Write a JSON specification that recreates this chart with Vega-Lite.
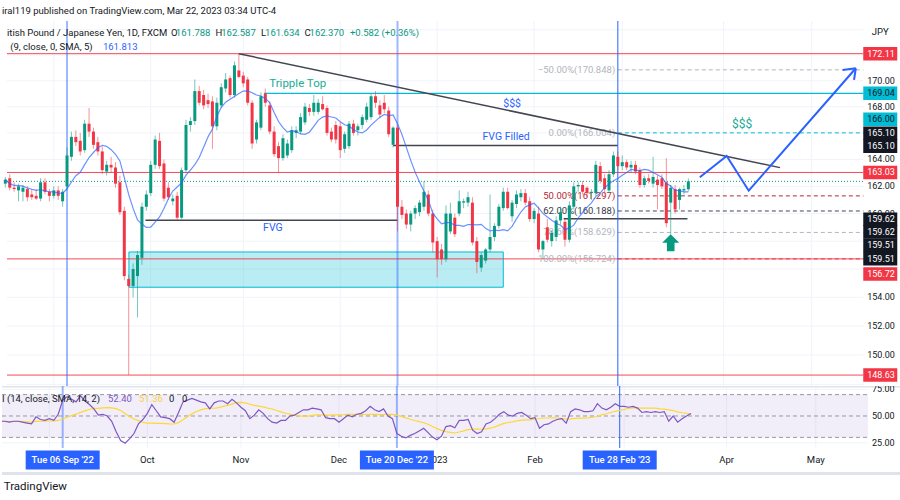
{
"$schema":"https://vega.github.io/schema/vega-lite/v6.json",
"padding":0,"background":"white","spacing":0,"bounds":"flush",
"config":{"view":{"stroke":null},"font":"Roboto"},
"resolve":{"scale":{"x":"independent","y":"independent"}},
"datasets":{
"candles":[
{"i":2,"o":162.2,"h":162.7,"l":161.9,"c":162.5,"r":45.1},
{"i":3,"o":162.6,"h":162.9,"l":161.7,"c":161.9,"r":45.1},
{"i":4,"o":161.9,"h":162.3,"l":161.6,"c":161.8,"r":44.2},
{"i":5,"o":161.7,"h":162.2,"l":160.9,"c":162.0,"r":45.1},
{"i":6,"o":161.6,"h":162.1,"l":160.9,"c":161.9,"r":45.1},
{"i":7,"o":161.8,"h":162.0,"l":160.9,"c":161.2,"r":44.2},
{"i":8,"o":161.4,"h":161.8,"l":161.0,"c":161.2,"r":43.4},
{"i":9,"o":161.3,"h":161.8,"l":161.0,"c":161.1,"r":42.6},
{"i":10,"o":161.1,"h":162.6,"l":160.9,"c":162.3,"r":49.2},
{"i":11,"o":162.3,"h":162.6,"l":161.4,"c":161.6,"r":46.7},
{"i":12,"o":161.6,"h":161.8,"l":160.9,"c":161.3,"r":45.9},
{"i":13,"o":161.3,"h":162.0,"l":161.1,"c":161.7,"r":47.5},
{"i":14,"o":161.7,"h":162.0,"l":161.0,"c":161.3,"r":45.9},
{"i":15,"o":160.9,"h":161.8,"l":160.5,"c":161.6,"r":51.6},
{"i":16,"o":162.0,"h":164.9,"l":161.7,"c":164.3,"r":64.8},
{"i":17,"o":164.2,"h":166.1,"l":163.9,"c":165.7,"r":68.1},
{"i":18,"o":165.7,"h":166.2,"l":165.0,"c":165.3,"r":65.6},
{"i":19,"o":165.4,"h":166.0,"l":164.3,"c":164.6,"r":63.2},
{"i":20,"o":164.7,"h":167.0,"l":164.5,"c":166.7,"r":68.9},
{"i":21,"o":166.7,"h":167.9,"l":165.7,"c":166.1,"r":64.0},
{"i":22,"o":166.1,"h":166.4,"l":164.8,"c":165.1,"r":60.7},
{"i":23,"o":165.3,"h":165.7,"l":164.3,"c":164.6,"r":56.6},
{"i":24,"o":164.6,"h":165.0,"l":162.9,"c":163.2,"r":50.8},
{"i":25,"o":163.1,"h":163.9,"l":162.8,"c":163.6,"r":51.6},
{"i":26,"o":163.6,"h":164.2,"l":163.0,"c":163.4,"r":50.0},
{"i":27,"o":163.4,"h":163.8,"l":161.9,"c":162.2,"r":45.1},
{"i":28,"o":162.3,"h":162.8,"l":159.9,"c":160.1,"r":35.2},
{"i":29,"o":160.2,"h":160.5,"l":155.2,"c":155.5,"r":27.0},
{"i":30,"o":155.3,"h":155.6,"l":148.63,"c":154.8,"r":24.5},
{"i":31,"o":154.8,"h":156.4,"l":154.0,"c":156.0,"r":28.6},
{"i":32,"o":155.5,"h":157.3,"l":152.6,"c":157.0,"r":33.6},
{"i":33,"o":156.8,"h":160.8,"l":156.3,"c":160.5,"r":42.6},
{"i":34,"o":160.5,"h":161.7,"l":160.2,"c":161.4,"r":46.7},
{"i":35,"o":161.5,"h":163.9,"l":161.3,"c":163.6,"r":52.5},
{"i":36,"o":163.6,"h":165.8,"l":163.3,"c":165.5,"r":60.7},
{"i":37,"o":165.4,"h":166.0,"l":163.3,"c":163.5,"r":54.9},
{"i":38,"o":163.7,"h":164.0,"l":160.9,"c":161.1,"r":49.2},
{"i":39,"o":161.9,"h":162.3,"l":161.0,"c":161.2,"r":48.4},
{"i":40,"o":160.9,"h":161.4,"l":160.6,"c":161.1,"r":47.5},
{"i":41,"o":161.3,"h":161.6,"l":159.5,"c":159.7,"r":44.2},
{"i":42,"o":159.7,"h":163.4,"l":159.6,"c":163.2,"r":53.3},
{"i":43,"o":163.2,"h":167.0,"l":163.0,"c":166.6,"r":63.2},
{"i":44,"o":166.6,"h":167.2,"l":166.1,"c":166.9,"r":64.8},
{"i":45,"o":166.9,"h":170.1,"l":166.6,"c":169.2,"r":66.4},
{"i":46,"o":169.2,"h":169.6,"l":168.1,"c":168.3,"r":64.8},
{"i":47,"o":168.9,"h":169.3,"l":167.8,"c":168.1,"r":63.2},
{"i":48,"o":168.5,"h":169.0,"l":167.9,"c":168.2,"r":62.3},
{"i":49,"o":168.4,"h":168.8,"l":164.8,"c":166.5,"r":56.6},
{"i":50,"o":166.5,"h":168.7,"l":166.2,"c":168.3,"r":62.3},
{"i":51,"o":168.1,"h":169.8,"l":167.9,"c":169.5,"r":64.0},
{"i":52,"o":169.4,"h":170.6,"l":169.1,"c":170.1,"r":64.0},
{"i":53,"o":170.2,"h":170.4,"l":168.7,"c":168.9,"r":61.5},
{"i":54,"o":168.9,"h":171.5,"l":168.7,"c":171.2,"r":65.6},
{"i":55,"o":170.8,"h":172.11,"l":170.2,"c":170.3,"r":62.3},
{"i":56,"o":170.4,"h":170.7,"l":169.5,"c":169.8,"r":58.2},
{"i":57,"o":170.1,"h":170.3,"l":168.1,"c":168.3,"r":54.9},
{"i":58,"o":168.3,"h":168.5,"l":164.8,"c":165.2,"r":47.5},
{"i":59,"o":165.5,"h":167.0,"l":165.2,"c":166.8,"r":50.8},
{"i":60,"o":166.4,"h":169.1,"l":166.2,"c":168.8,"r":55.8},
{"i":61,"o":169.0,"h":169.4,"l":168.0,"c":168.3,"r":52.5},
{"i":62,"o":168.1,"h":168.4,"l":165.9,"c":166.1,"r":47.5},
{"i":63,"o":166.1,"h":166.5,"l":164.2,"c":164.4,"r":44.2},
{"i":64,"o":165.0,"h":165.3,"l":163.0,"c":164.1,"r":43.4},
{"i":65,"o":164.1,"h":165.9,"l":163.9,"c":165.6,"r":45.9},
{"i":66,"o":164.3,"h":165.5,"l":164.1,"c":165.2,"r":45.9},
{"i":67,"o":164.7,"h":166.5,"l":164.5,"c":166.2,"r":50.0},
{"i":68,"o":166.0,"h":166.5,"l":165.6,"c":166.2,"r":50.8},
{"i":69,"o":166.1,"h":167.5,"l":165.9,"c":167.2,"r":53.3},
{"i":70,"o":166.8,"h":168.3,"l":166.6,"c":168.0,"r":55.8},
{"i":71,"o":167.9,"h":168.2,"l":167.3,"c":167.6,"r":55.8},
{"i":72,"o":167.6,"h":168.9,"l":167.3,"c":168.3,"r":57.4},
{"i":73,"o":167.6,"h":168.6,"l":167.4,"c":168.3,"r":56.6},
{"i":74,"o":168.2,"h":168.8,"l":167.7,"c":167.8,"r":55.8},
{"i":75,"o":167.9,"h":168.1,"l":165.8,"c":166.0,"r":48.4},
{"i":76,"o":166.1,"h":166.4,"l":165.3,"c":165.5,"r":47.5},
{"i":77,"o":166.6,"h":166.9,"l":165.2,"c":165.5,"r":47.5},
{"i":78,"o":166.5,"h":166.8,"l":164.1,"c":164.7,"r":44.2},
{"i":79,"o":164.8,"h":166.1,"l":164.5,"c":165.9,"r":47.5},
{"i":80,"o":165.0,"h":166.9,"l":164.8,"c":166.7,"r":50.8},
{"i":81,"o":166.7,"h":167.0,"l":165.8,"c":166.0,"r":49.2},
{"i":82,"o":166.2,"h":166.7,"l":165.8,"c":166.5,"r":51.6},
{"i":83,"o":166.6,"h":167.4,"l":166.3,"c":167.2,"r":52.5},
{"i":84,"o":167.0,"h":168.3,"l":166.8,"c":168.0,"r":54.9},
{"i":85,"o":167.2,"h":169.0,"l":167.0,"c":168.8,"r":59.0},
{"i":86,"o":168.8,"h":169.2,"l":167.9,"c":168.3,"r":55.8},
{"i":87,"o":168.1,"h":168.5,"l":167.1,"c":167.4,"r":54.1},
{"i":88,"o":168.3,"h":168.9,"l":167.5,"c":167.8,"r":56.6},
{"i":89,"o":167.7,"h":168.0,"l":165.7,"c":165.9,"r":50.0},
{"i":90,"o":165.1,"h":166.5,"l":164.9,"c":166.4,"r":47.5},
{"i":91,"o":166.4,"h":166.6,"l":158.7,"c":160.5,"r":33.6},
{"i":92,"o":160.5,"h":161.0,"l":159.6,"c":159.9,"r":31.1},
{"i":93,"o":160.0,"h":160.3,"l":158.9,"c":159.2,"r":29.5},
{"i":94,"o":159.2,"h":160.2,"l":158.7,"c":160.0,"r":31.9},
{"i":95,"o":160.0,"h":160.6,"l":159.6,"c":160.4,"r":33.6},
{"i":96,"o":160.1,"h":161.0,"l":159.8,"c":160.8,"r":36.0},
{"i":97,"o":160.5,"h":162.4,"l":160.2,"c":161.6,"r":38.5},
{"i":98,"o":161.4,"h":161.7,"l":159.8,"c":160.0,"r":34.4},
{"i":99,"o":160.0,"h":160.3,"l":157.2,"c":157.9,"r":30.3},
{"i":100,"o":158.0,"h":158.3,"l":155.4,"c":156.7,"r":27.8},
{"i":101,"o":157.4,"h":157.8,"l":156.3,"c":156.7,"r":31.1},
{"i":102,"o":156.7,"h":160.6,"l":156.5,"c":160.0,"r":40.1},
{"i":103,"o":158.7,"h":160.8,"l":158.5,"c":160.0,"r":41.0},
{"i":104,"o":159.7,"h":160.0,"l":158.3,"c":158.5,"r":39.0},
{"i":105,"o":160.0,"h":161.7,"l":159.8,"c":160.9,"r":45.9},
{"i":106,"o":160.8,"h":161.1,"l":160.4,"c":160.9,"r":45.9},
{"i":107,"o":160.8,"h":161.6,"l":160.5,"c":161.2,"r":46.7},
{"i":108,"o":160.8,"h":161.2,"l":157.7,"c":157.9,"r":36.8},
{"i":109,"o":158.0,"h":158.3,"l":155.7,"c":156.5,"r":33.6},
{"i":110,"o":156.1,"h":157.2,"l":155.8,"c":157.0,"r":35.2},
{"i":111,"o":156.6,"h":157.5,"l":156.4,"c":157.4,"r":42.6},
{"i":112,"o":157.4,"h":161.4,"l":157.2,"c":158.3,"r":44.2},
{"i":113,"o":158.3,"h":159.3,"l":158.0,"c":159.1,"r":47.5},
{"i":114,"o":159.1,"h":160.7,"l":158.9,"c":160.5,"r":51.6},
{"i":115,"o":160.4,"h":161.9,"l":160.2,"c":161.6,"r":54.1},
{"i":116,"o":161.6,"h":161.9,"l":160.3,"c":160.4,"r":50.8},
{"i":117,"o":159.8,"h":161.0,"l":159.4,"c":160.8,"r":50.0},
{"i":118,"o":160.7,"h":161.7,"l":160.4,"c":161.4,"r":52.5},
{"i":119,"o":161.2,"h":161.8,"l":160.9,"c":161.5,"r":53.3},
{"i":120,"o":161.5,"h":161.8,"l":160.6,"c":160.8,"r":50.8},
{"i":121,"o":160.9,"h":161.2,"l":159.4,"c":159.6,"r":47.5},
{"i":122,"o":159.6,"h":160.4,"l":159.3,"c":160.2,"r":48.4},
{"i":123,"o":160.0,"h":160.5,"l":157.2,"c":157.4,"r":38.5},
{"i":124,"o":157.4,"h":158.1,"l":156.72,"c":158.0,"r":41.8},
{"i":125,"o":159.0,"h":159.6,"l":157.9,"c":158.1,"r":42.6},
{"i":126,"o":158.0,"h":158.8,"l":157.6,"c":158.6,"r":45.1},
{"i":127,"o":158.3,"h":159.8,"l":158.0,"c":159.5,"r":46.7},
{"i":128,"o":159.5,"h":160.5,"l":159.2,"c":160.1,"r":47.5},
{"i":129,"o":159.4,"h":159.6,"l":157.6,"c":158.1,"r":43.4},
{"i":130,"o":158.1,"h":160.9,"l":157.9,"c":160.6,"r":54.1},
{"i":131,"o":160.5,"h":162.3,"l":160.3,"c":162.0,"r":56.6},
{"i":132,"o":162.0,"h":162.3,"l":161.6,"c":162.1,"r":55.8},
{"i":133,"o":162.1,"h":162.4,"l":161.4,"c":161.6,"r":54.1},
{"i":134,"o":161.9,"h":162.0,"l":161.2,"c":161.5,"r":54.1},
{"i":135,"o":161.5,"h":161.8,"l":161.0,"c":161.6,"r":54.9},
{"i":136,"o":161.5,"h":163.9,"l":161.3,"c":163.6,"r":61.5},
{"i":137,"o":163.5,"h":163.8,"l":162.2,"c":162.4,"r":57.4},
{"i":138,"o":162.6,"h":162.9,"l":161.4,"c":161.8,"r":55.8},
{"i":139,"o":161.7,"h":163.2,"l":161.5,"c":162.9,"r":58.2},
{"i":140,"o":162.9,"h":164.6,"l":162.7,"c":164.3,"r":61.5},
{"i":141,"o":164.2,"h":164.6,"l":163.2,"c":163.5,"r":59.0},
{"i":142,"o":163.5,"h":164.3,"l":163.2,"c":163.8,"r":59.0},
{"i":143,"o":163.8,"h":164.0,"l":163.2,"c":163.4,"r":58.2},
{"i":144,"o":163.4,"h":163.9,"l":163.0,"c":163.6,"r":59.0},
{"i":145,"o":163.6,"h":163.9,"l":162.9,"c":163.1,"r":57.4},
{"i":146,"o":163.2,"h":163.4,"l":161.9,"c":162.1,"r":53.3},
{"i":147,"o":162.1,"h":162.8,"l":161.9,"c":162.6,"r":54.1},
{"i":148,"o":162.6,"h":162.9,"l":162.2,"c":162.4,"r":53.3},
{"i":149,"o":162.2,"h":164.2,"l":161.9,"c":162.7,"r":54.1},
{"i":150,"o":162.5,"h":162.8,"l":160.3,"c":162.1,"r":53.3},
{"i":151,"o":162.6,"h":162.9,"l":161.8,"c":162.0,"r":54.1},
{"i":152,"o":162.3,"h":164.1,"l":159.0,"c":159.3,"r":45.1},
{"i":153,"o":160.8,"h":162.1,"l":158.5,"c":161.9,"r":50.0},
{"i":154,"o":161.8,"h":162.1,"l":160.0,"c":160.3,"r":44.2},
{"i":155,"o":161.0,"h":161.9,"l":160.3,"c":161.8,"r":47.5},
{"i":156,"o":161.7,"h":162.1,"l":161.4,"c":161.8,"r":50.0},
{"i":157,"o":161.788,"h":162.587,"l":161.634,"c":162.37,"r":52.4}
],
"monthgrid":[{"i":13},{"i":35},{"i":56},{"i":78},{"i":100},{"i":122},{"i":142},{"i":165},{"i":185}],
"months":[{"i":35,"t":"Oct"},{"i":56,"t":"Nov"},{"i":78,"t":"Dec"},{"i":100,"t":"2023"},{"i":122,"t":"Feb"},{"i":165,"t":"Apr"},{"i":185,"t":"May"}],
"pricelabels":[
{"p":172.11,"t":"172.11","k":"red"},
{"p":169.03,"t":"169.04","k":"cyan"},
{"p":167.04,"t":"166.00","k":"cyan"},
{"p":165.97,"t":"165.10","k":"black"},
{"p":165.0,"t":"165.10","k":"black"},
{"p":163.03,"t":"163.03","k":"red"},
{"p":159.59,"t":"159.62","k":"black"},
{"p":158.68,"t":"159.62","k":"black"},
{"p":157.71,"t":"159.51","k":"black"},
{"p":156.74,"t":"159.51","k":"black"},
{"p":155.65,"t":"156.72","k":"red"},
{"p":148.63,"t":"148.63","k":"red"}
],
"fib":[
{"p":170.848,"t":"\u221250.00%(170.848)","lv":"-50"},
{"p":166.004,"t":"0.00%(166.004)","lv":"0"},
{"p":161.297,"t":"50.00%(161.297)","lv":"50"},
{"p":160.188,"t":"62.00%(160.188)","lv":"62"},
{"p":158.629,"t":"78.60%(158.629)","lv":"78.6"},
{"p":156.724,"t":"100.00%(156.724)","lv":"100"}
]
},
"vconcat":[
{"width":900,"height":21,
 "data":{"values":[{"t":"iral119 published on TradingView.com, Mar 22, 2023 03:34 UTC-4"}]},
 "mark":{"type":"text","align":"left","fontSize":9.5,"color":"#131722"},
 "encoding":{"x":{"datum":2.38,"type":"quantitative","scale":{"domain":[2.38,204.35],"nice":false,"zero":false},"axis":null},"text":{"field":"t"}}},
{"width":900,"height":365,
 "layer":[
  {"data":{"name":"monthgrid"},
   "mark":{"type":"rule","color":"#f0f3fa","strokeWidth":1},
   "encoding":{"x":{"field":"i","type":"quantitative","scale":{"domain":[2.38,204.35],"nice":false,"zero":false},"axis":null}}},
  {"data":{"values":[{"v":148},{"v":150},{"v":152},{"v":154},{"v":156},{"v":158},{"v":160},{"v":162},{"v":164},{"v":166},{"v":168},{"v":170},{"v":172},{"v":174}]},
   "mark":{"type":"rule","color":"#f0f3fa","strokeWidth":1},
   "encoding":{"x":{"datum":2.38,"type":"quantitative","scale":{"domain":[2.38,204.35],"nice":false,"zero":false},"axis":null},"x2":{"datum":196.73},
    "y":{"field":"v","type":"quantitative","scale":{"type":"log","domain":[147.89,174.7],"nice":false},"axis":null}}},
  {"data":{"values":[{"i1":30.05,"i2":115.0,"p1":157.22,"p2":154.71}]},
   "mark":{"type":"rect","fill":"#00bcd4","fillOpacity":0.27,"stroke":"#00bcd4","strokeWidth":1},
   "encoding":{
    "x":{"field":"i1","type":"quantitative","scale":{"domain":[2.38,204.35],"nice":false,"zero":false},"axis":null},
    "x2":{"field":"i2"},
    "y":{"field":"p1","type":"quantitative","scale":{"type":"log","domain":[147.89,174.7],"nice":false},"axis":null},
    "y2":{"field":"p2"}}},
  {"data":{"values":[{"p":172.113},{"p":163.03},{"p":156.724},{"p":148.63}]},
   "mark":{"type":"rule","color":"#f23645","strokeWidth":1,"opacity":0.9},
   "encoding":{"x":{"datum":2.38,"type":"quantitative","scale":{"domain":[2.38,204.35],"nice":false,"zero":false},"axis":null},"x2":{"datum":196.73},
    "y":{"field":"p","type":"quantitative","scale":{"type":"log","domain":[147.89,174.7],"nice":false},"axis":null}}},
  {"data":{"values":[{"p":162.37}]},
   "mark":{"type":"rule","color":"#089981","strokeWidth":1,"strokeDash":[1,2]},
   "encoding":{"x":{"datum":2.38,"type":"quantitative","scale":{"domain":[2.38,204.35],"nice":false,"zero":false},"axis":null},"x2":{"datum":196.73},
    "y":{"field":"p","type":"quantitative","scale":{"type":"log","domain":[147.89,174.7],"nice":false},"axis":null}}},
  {"data":{"values":[{"i1":60.7,"i2":196.73,"p":169.03}]},
   "mark":{"type":"rule","color":"#00bcd4","strokeWidth":1.3},
   "encoding":{"x":{"field":"i1","type":"quantitative","scale":{"domain":[2.38,204.35],"nice":false,"zero":false},"axis":null},"x2":{"field":"i2"},
    "y":{"field":"p","type":"quantitative","scale":{"type":"log","domain":[147.89,174.7],"nice":false},"axis":null}}},
  {"data":{"name":"fib"},
   "mark":{"type":"rule","strokeWidth":1,"strokeDash":[4,3]},
   "encoding":{"x":{"datum":141,"type":"quantitative","scale":{"domain":[2.38,204.35],"nice":false,"zero":false},"axis":null},"x2":{"datum":196.73},
    "y":{"field":"p","type":"quantitative","scale":{"type":"log","domain":[147.89,174.7],"nice":false},"axis":null},
    "color":{"condition":[{"test":"datum.lv=='0'","value":"#00bcd4"},{"test":"datum.lv=='50'","value":"#b22833"},{"test":"datum.lv=='62'","value":"#434651"},{"test":"datum.lv=='100'","value":"#f23645"}],"value":"#b2b5be"}}},
  {"data":{"name":"fib"},
   "mark":{"type":"text","align":"right","fontSize":9.5},
   "encoding":{"x":{"datum":140.4,"type":"quantitative","scale":{"domain":[2.38,204.35],"nice":false,"zero":false},"axis":null},
    "y":{"field":"p","type":"quantitative","scale":{"type":"log","domain":[147.89,174.7],"nice":false},"axis":null},
    "text":{"field":"t"},
    "color":{"condition":[{"test":"datum.lv=='50'","value":"#b22833"},{"test":"datum.lv=='62'","value":"#363a45"}],"value":"#b2b5be"}}},
  {"data":{"values":[{"i1":33.8,"i2":91,"p":159.51},{"i1":90,"i2":141,"p":165.05},{"i1":128.7,"i2":156.8,"p":159.62}]},
   "mark":{"type":"rule","color":"#434651","strokeWidth":1.5},
   "encoding":{"x":{"field":"i1","type":"quantitative","scale":{"domain":[2.38,204.35],"nice":false,"zero":false},"axis":null},"x2":{"field":"i2"},
    "y":{"field":"p","type":"quantitative","scale":{"type":"log","domain":[147.89,174.7],"nice":false},"axis":null}}},
  {"data":{"values":[{"i1":55,"i2":177.8,"p1":172.11,"p2":163.39}]},
   "mark":{"type":"rule","color":"#434651","strokeWidth":1.5},
   "encoding":{"x":{"field":"i1","type":"quantitative","scale":{"domain":[2.38,204.35],"nice":false,"zero":false},"axis":null},"x2":{"field":"i2"},
    "y":{"field":"p1","type":"quantitative","scale":{"type":"log","domain":[147.89,174.7],"nice":false},"axis":null},"y2":{"field":"p2"}}},
  {"data":{"values":[{"i":16},{"i":91}]},
   "mark":{"type":"rule","color":"#2962ff","opacity":0.45,"strokeWidth":2},
   "encoding":{"x":{"field":"i","type":"quantitative","scale":{"domain":[2.38,204.35],"nice":false,"zero":false},"axis":null}}},
  {"data":{"values":[{"i":141}]},
   "mark":{"type":"rule","color":"#2962ff","strokeWidth":1},
   "encoding":{"x":{"field":"i","type":"quantitative","scale":{"domain":[2.38,204.35],"nice":false,"zero":false},"axis":null}}},
  {"data":{"name":"candles"},
   "mark":{"type":"rule","strokeWidth":1,"opacity":0.55,"clip":true},
   "encoding":{"x":{"field":"i","type":"quantitative","scale":{"domain":[2.38,204.35],"nice":false,"zero":false},"axis":null},
    "y":{"field":"l","type":"quantitative","scale":{"type":"log","domain":[147.89,174.7],"nice":false},"axis":null},"y2":{"field":"h"},
    "color":{"condition":{"test":"datum.c>=datum.o","value":"#089981"},"value":"#f23645"}}},
  {"data":{"name":"candles"},
   "mark":{"type":"bar","width":3,"clip":true},
   "encoding":{"x":{"field":"i","type":"quantitative","scale":{"domain":[2.38,204.35],"nice":false,"zero":false},"axis":null},
    "y":{"field":"o","type":"quantitative","scale":{"type":"log","domain":[147.89,174.7],"nice":false},"axis":null},"y2":{"field":"c"},
    "color":{"condition":{"test":"datum.c>=datum.o","value":"#089981"},"value":"#f23645"}}},
  {"data":{"name":"candles"},
   "transform":[{"window":[{"op":"mean","field":"c","as":"sma"}],"frame":[-8,0],"sort":[{"field":"i"}]}],
   "mark":{"type":"line","color":"#2962ff","opacity":0.7,"strokeWidth":1.2,"clip":true},
   "encoding":{"x":{"field":"i","type":"quantitative","scale":{"domain":[2.38,204.35],"nice":false,"zero":false},"axis":null},
    "y":{"field":"sma","type":"quantitative","scale":{"type":"log","domain":[147.89,174.7],"nice":false},"axis":null}}},
  {"data":{"values":[{"s":1,"i":159.6,"p":162.67},{"s":2,"i":165.7,"p":164.26},{"s":3,"i":170.7,"p":161.68},{"s":4,"i":195.0,"p":170.97}]},
   "mark":{"type":"line","color":"#2962ff","strokeWidth":2},
   "encoding":{"x":{"field":"i","type":"quantitative","scale":{"domain":[2.38,204.35],"nice":false,"zero":false},"axis":null},
    "y":{"field":"p","type":"quantitative","scale":{"type":"log","domain":[147.89,174.7],"nice":false},"axis":null},
    "order":{"field":"s"}}},
  {"data":{"values":[{"i1":195.0,"p1":170.97,"i2":192.0,"p2":170.84},{"i1":195.0,"p1":170.97,"i2":194.6,"p2":170.06}]},
   "mark":{"type":"rule","color":"#2962ff","strokeWidth":2},
   "encoding":{"x":{"field":"i1","type":"quantitative","scale":{"domain":[2.38,204.35],"nice":false,"zero":false},"axis":null},"x2":{"field":"i2"},
    "y":{"field":"p1","type":"quantitative","scale":{"type":"log","domain":[147.89,174.7],"nice":false},"axis":null},"y2":{"field":"p2"}}},
  {"data":{"values":[{"i":153,"p":157.89}]},
   "mark":{"type":"point","shape":"M0,-1L1,0H0.45V1H-0.45V0H-1Z","filled":true,"size":289,"opacity":1,"color":"#089981","strokeWidth":0},
   "encoding":{"x":{"field":"i","type":"quantitative","scale":{"domain":[2.38,204.35],"nice":false,"zero":false},"axis":null},
    "y":{"field":"p","type":"quantitative","scale":{"type":"log","domain":[147.89,174.7],"nice":false},"axis":null}}},
  {"data":{"values":[{"i":61.9,"p":169.75,"t":"Tripple Top"}]},
   "mark":{"type":"text","align":"left","fontSize":11.5,"color":"#22ab94"},
   "encoding":{"x":{"field":"i","type":"quantitative","scale":{"domain":[2.38,204.35],"nice":false,"zero":false},"axis":null},
    "y":{"field":"p","type":"quantitative","scale":{"type":"log","domain":[147.89,174.7],"nice":false},"axis":null},"text":{"field":"t"}}},
  {"data":{"values":[{"i":166.9,"p":166.68,"t":"$$$"}]},
   "mark":{"type":"text","align":"left","fontSize":12,"color":"#22ab94"},
   "encoding":{"x":{"field":"i","type":"quantitative","scale":{"domain":[2.38,204.35],"nice":false,"zero":false},"axis":null},
    "y":{"field":"p","type":"quantitative","scale":{"type":"log","domain":[147.89,174.7],"nice":false},"axis":null},"text":{"field":"t"}}},
  {"data":{"values":[{"i":115.0,"p":168.21,"t":"$$$"},{"i":110.3,"p":165.67,"t":"FVG Filled"},{"i":60.5,"p":158.93,"t":"FVG"}]},
   "mark":{"type":"text","align":"left","fontSize":10.5,"color":"#2962ff"},
   "encoding":{"x":{"field":"i","type":"quantitative","scale":{"domain":[2.38,204.35],"nice":false,"zero":false},"axis":null},
    "y":{"field":"p","type":"quantitative","scale":{"type":"log","domain":[147.89,174.7],"nice":false},"axis":null},"text":{"field":"t"}}},
  {"data":{"values":[{"i":2.38,"p":173.75,"t":"itish Pound / Japanese Yen, 1D, FXCM"},{"i":39.57,"p":173.75,"t":"O"},{"i":49.7,"p":173.75,"t":"H"},{"i":60.0,"p":173.75,"t":"L"},{"i":69.9,"p":173.75,"t":"C"},{"i":3.12,"p":172.64,"t":"(9, close, 0, SMA, 5)"}]},
   "mark":{"type":"text","align":"left","fontSize":9.5,"color":"#131722"},
   "encoding":{"x":{"field":"i","type":"quantitative","scale":{"domain":[2.38,204.35],"nice":false,"zero":false},"axis":null},
    "y":{"field":"p","type":"quantitative","scale":{"type":"log","domain":[147.89,174.7],"nice":false},"axis":null},"text":{"field":"t"}}},
  {"data":{"values":[{"i":40.7,"p":173.75,"t":"161.788"},{"i":51.0,"p":173.75,"t":"162.587"},{"i":60.95,"p":173.75,"t":"161.634"},{"i":71.05,"p":173.75,"t":"162.370"},{"i":80.2,"p":173.75,"t":"+0.582 (+0.36%)"}]},
   "mark":{"type":"text","align":"left","fontSize":9.5,"color":"#089981"},
   "encoding":{"x":{"field":"i","type":"quantitative","scale":{"domain":[2.38,204.35],"nice":false,"zero":false},"axis":null},
    "y":{"field":"p","type":"quantitative","scale":{"type":"log","domain":[147.89,174.7],"nice":false},"axis":null},"text":{"field":"t"}}},
  {"data":{"values":[{"i":24.15,"p":172.64,"t":"161.813"}]},
   "mark":{"type":"text","align":"left","fontSize":9.5,"color":"#2962ff"},
   "encoding":{"x":{"field":"i","type":"quantitative","scale":{"domain":[2.38,204.35],"nice":false,"zero":false},"axis":null},
    "y":{"field":"p","type":"quantitative","scale":{"type":"log","domain":[147.89,174.7],"nice":false},"axis":null},"text":{"field":"t"}}},
  {"data":{"values":[{"v":150},{"v":152},{"v":154},{"v":160},{"v":162},{"v":164},{"v":168},{"v":170}]},
   "mark":{"type":"text","align":"left","dx":-13,"fontSize":9,"color":"#131722","clip":true},
   "encoding":{"x":{"datum":200.55,"type":"quantitative","scale":{"domain":[2.38,204.35],"nice":false,"zero":false},"axis":null},
    "y":{"field":"v","type":"quantitative","scale":{"type":"log","domain":[147.89,174.7],"nice":false},"axis":null},"text":{"field":"v","format":".2f"}}},
  {"data":{"values":[{"t":"JPY"}]},
   "mark":{"type":"text","align":"center","fontSize":9.5,"color":"#131722"},
   "encoding":{"x":{"datum":200.55,"type":"quantitative","scale":{"domain":[2.38,204.35],"nice":false,"zero":false},"axis":null},
    "y":{"datum":173.8,"type":"quantitative","scale":{"type":"log","domain":[147.89,174.7],"nice":false},"axis":null},"text":{"field":"t"}}},
  {"data":{"name":"pricelabels"},
   "mark":{"type":"point","shape":"M-1,-0.4H1V0.4H-1Z","filled":true,"size":1156,"opacity":1,"strokeWidth":0},
   "encoding":{"x":{"datum":200.55,"type":"quantitative","scale":{"domain":[2.38,204.35],"nice":false,"zero":false},"axis":null},
    "y":{"field":"p","type":"quantitative","scale":{"type":"log","domain":[147.89,174.7],"nice":false},"axis":null},
    "color":{"field":"k","type":"nominal","scale":{"domain":["red","cyan","black"],"range":["#f23645","#00bcd4","#131722"]},"legend":null}}},
  {"data":{"name":"pricelabels"},
   "mark":{"type":"text","align":"left","dx":-13,"fontSize":9},
   "encoding":{"x":{"datum":200.55,"type":"quantitative","scale":{"domain":[2.38,204.35],"nice":false,"zero":false},"axis":null},
    "y":{"field":"p","type":"quantitative","scale":{"type":"log","domain":[147.89,174.7],"nice":false},"axis":null},
    "text":{"field":"t"},
    "color":{"condition":{"test":"datum.k=='cyan'","value":"#131722"},"value":"#ffffff"}}}
 ]},
{"width":900,"height":62,
 "layer":[
  {"data":{"name":"monthgrid"},
   "mark":{"type":"rule","color":"#f0f3fa","strokeWidth":1},
   "encoding":{"x":{"field":"i","type":"quantitative","scale":{"domain":[2.38,204.35],"nice":false,"zero":false},"axis":null}}},
  {"data":{"values":[{"v":25},{"v":75}]},
   "mark":{"type":"rule","color":"#f0f3fa","strokeWidth":1},
   "encoding":{"x":{"datum":2.38,"type":"quantitative","scale":{"domain":[2.38,204.35],"nice":false,"zero":false},"axis":null},"x2":{"datum":196.73},
    "y":{"field":"v","type":"quantitative","scale":{"domain":[20.09,78.04],"nice":false,"zero":false},"axis":null}}},
  {"data":{"values":[{}]},
   "mark":{"type":"rect","color":"#7e57c2","opacity":0.1},
   "encoding":{"x":{"datum":2.38,"type":"quantitative","scale":{"domain":[2.38,204.35],"nice":false,"zero":false},"axis":null},"x2":{"datum":196.73},
    "y":{"datum":70,"type":"quantitative","scale":{"domain":[20.09,78.04],"nice":false,"zero":false},"axis":null},"y2":{"datum":30}}},
  {"data":{"values":[{"v":70},{"v":50},{"v":30}]},
   "mark":{"type":"rule","color":"#787b86","strokeDash":[4,3],"strokeWidth":1,"opacity":0.75},
   "encoding":{"x":{"datum":2.38,"type":"quantitative","scale":{"domain":[2.38,204.35],"nice":false,"zero":false},"axis":null},"x2":{"datum":196.73},
    "y":{"field":"v","type":"quantitative","scale":{"domain":[20.09,78.04],"nice":false,"zero":false},"axis":null}}},
  {"data":{"values":[{"v":77.3}]},
   "mark":{"type":"rule","color":"#e0e3eb","strokeWidth":1.5},
   "encoding":{"y":{"field":"v","type":"quantitative","scale":{"domain":[20.09,78.04],"nice":false,"zero":false},"axis":null}}},
  {"data":{"values":[{"i":16},{"i":91}]},
   "mark":{"type":"rule","color":"#2962ff","opacity":0.45,"strokeWidth":2},
   "encoding":{"x":{"field":"i","type":"quantitative","scale":{"domain":[2.38,204.35],"nice":false,"zero":false},"axis":null}}},
  {"data":{"values":[{"i":141}]},
   "mark":{"type":"rule","color":"#2962ff","strokeWidth":1},
   "encoding":{"x":{"field":"i","type":"quantitative","scale":{"domain":[2.38,204.35],"nice":false,"zero":false},"axis":null}}},
  {"data":{"name":"candles"},
   "transform":[{"window":[{"op":"mean","field":"r","as":"ma"}],"frame":[-13,0],"sort":[{"field":"i"}]}],
   "mark":{"type":"line","color":"#fdd835","strokeWidth":1.2,"clip":true},
   "encoding":{"x":{"field":"i","type":"quantitative","scale":{"domain":[2.38,204.35],"nice":false,"zero":false},"axis":null},
    "y":{"field":"ma","type":"quantitative","scale":{"domain":[20.09,78.04],"nice":false,"zero":false},"axis":null}}},
  {"data":{"name":"candles"},
   "mark":{"type":"line","color":"#7e57c2","strokeWidth":1.2,"clip":true},
   "encoding":{"x":{"field":"i","type":"quantitative","scale":{"domain":[2.38,204.35],"nice":false,"zero":false},"axis":null},
    "y":{"field":"r","type":"quantitative","scale":{"domain":[20.09,78.04],"nice":false,"zero":false},"axis":null}}},
  {"data":{"values":[{"i":2.38,"t":"I (14, close, SMA, 14, 2)"},{"i":39.86,"t":"0"},{"i":42.8,"t":"0"}]},
   "mark":{"type":"text","align":"left","fontSize":9.5,"color":"#131722"},
   "encoding":{"x":{"field":"i","type":"quantitative","scale":{"domain":[2.38,204.35],"nice":false,"zero":false},"axis":null},
    "y":{"datum":65.6,"type":"quantitative","scale":{"domain":[20.09,78.04],"nice":false,"zero":false},"axis":null},"text":{"field":"t"}}},
  {"data":{"values":[{"i":26.17,"t":"52.40"}]},
   "mark":{"type":"text","align":"left","fontSize":9.5,"color":"#7e57c2"},
   "encoding":{"x":{"field":"i","type":"quantitative","scale":{"domain":[2.38,204.35],"nice":false,"zero":false},"axis":null},
    "y":{"datum":65.6,"type":"quantitative","scale":{"domain":[20.09,78.04],"nice":false,"zero":false},"axis":null},"text":{"field":"t"}}},
  {"data":{"values":[{"i":33.12,"t":"51.36"}]},
   "mark":{"type":"text","align":"left","fontSize":9.5,"color":"#f5d142"},
   "encoding":{"x":{"field":"i","type":"quantitative","scale":{"domain":[2.38,204.35],"nice":false,"zero":false},"axis":null},
    "y":{"datum":65.6,"type":"quantitative","scale":{"domain":[20.09,78.04],"nice":false,"zero":false},"axis":null},"text":{"field":"t"}}},
  {"data":{"values":[{"v":25},{"v":50},{"v":75}]},
   "mark":{"type":"text","align":"left","dx":-13,"fontSize":9,"color":"#131722","clip":true},
   "encoding":{"x":{"datum":200.55,"type":"quantitative","scale":{"domain":[2.38,204.35],"nice":false,"zero":false},"axis":null},
    "y":{"field":"v","type":"quantitative","scale":{"domain":[20.09,78.04],"nice":false,"zero":false},"axis":null},"text":{"field":"v","format":".2f"}}}
 ]},
{"width":900,"height":24,
 "layer":[
  {"data":{"name":"months"},
   "mark":{"type":"text","align":"center","fontSize":9.5,"color":"#131722"},
   "encoding":{"x":{"field":"i","type":"quantitative","scale":{"domain":[2.38,204.35],"nice":false,"zero":false},"axis":null},"text":{"field":"t"}}},
  {"data":{"values":[{"i":16,"t":"Tue 06 Sep '22"},{"i":91,"t":"Tue 20 Dec '22"},{"i":141,"t":"Tue 28 Feb '23"}]},
   "mark":{"type":"point","shape":"M-1,-0.257H1V0.257H-1Z","filled":true,"size":5476,"opacity":1,"color":"#2962ff","strokeWidth":0},
   "encoding":{"x":{"field":"i","type":"quantitative","scale":{"domain":[2.38,204.35],"nice":false,"zero":false},"axis":null}}},
  {"data":{"values":[{"i":16,"t":"Tue 06 Sep '22"},{"i":91,"t":"Tue 20 Dec '22"},{"i":141,"t":"Tue 28 Feb '23"}]},
   "mark":{"type":"text","align":"center","fontSize":9.5,"color":"#ffffff","fontWeight":500},
   "encoding":{"x":{"field":"i","type":"quantitative","scale":{"domain":[2.38,204.35],"nice":false,"zero":false},"axis":null},"text":{"field":"t"}}}
 ]},
{"width":900,"height":28,
 "layer":[
  {"data":{"values":[{"v":1}]},
   "mark":{"type":"rule","color":"#e0e3eb","strokeWidth":3},
   "encoding":{"y":{"field":"v","type":"quantitative","scale":{"domain":[0,1.06],"nice":false,"zero":false},"axis":null}}},
  {"data":{"values":[{"i":2.76,"v":0.5,"t":"TradingView"}]},
   "mark":{"type":"text","align":"left","fontSize":11.5,"color":"#131722"},
   "encoding":{"x":{"field":"i","type":"quantitative","scale":{"domain":[2.38,204.35],"nice":false,"zero":false},"axis":null},
    "y":{"field":"v","type":"quantitative","scale":{"domain":[0,1.06],"nice":false,"zero":false},"axis":null},"text":{"field":"t"}}}
 ]}
]
}
